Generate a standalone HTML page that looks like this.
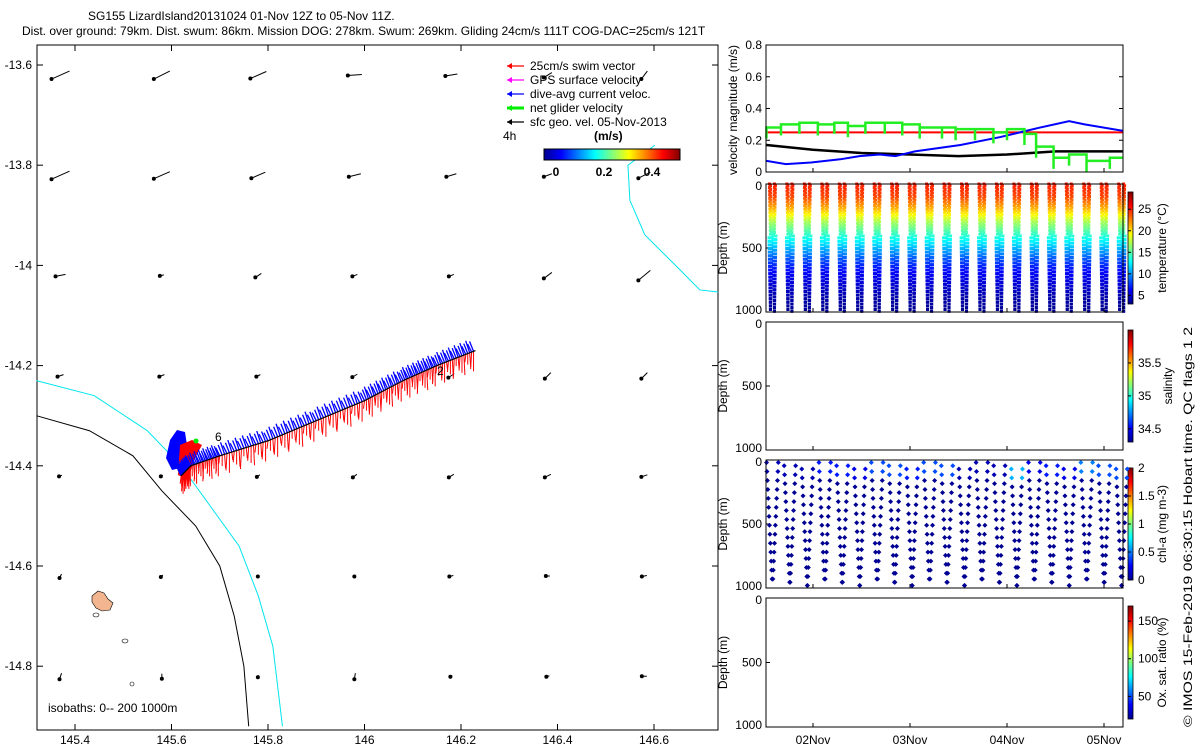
<!DOCTYPE html>
<html><head><meta charset="utf-8">
<style>
body{margin:0;background:#fff;width:1200px;height:750px;overflow:hidden;font-family:"Liberation Sans",sans-serif}
svg text{font-family:"Liberation Sans",sans-serif;font-size:12px;fill:#000}
</style></head>
<body>
<svg id="s" width="1200" height="750" xmlns="http://www.w3.org/2000/svg">
<defs>
<linearGradient id="jetv" x1="0" y1="1" x2="0" y2="0">
<stop offset="0" stop-color="#00008f"/><stop offset="0.125" stop-color="#0000ff"/><stop offset="0.375" stop-color="#00ffff"/><stop offset="0.625" stop-color="#ffff00"/><stop offset="0.875" stop-color="#ff0000"/><stop offset="1" stop-color="#800000"/>
</linearGradient>
<linearGradient id="jeth" x1="0" y1="0" x2="1" y2="0">
<stop offset="0" stop-color="#00008f"/><stop offset="0.125" stop-color="#0000ff"/><stop offset="0.375" stop-color="#00ffff"/><stop offset="0.625" stop-color="#ffff00"/><stop offset="0.875" stop-color="#ff0000"/><stop offset="1" stop-color="#800000"/>
</linearGradient>
</defs>
<text x="88" y="20">SG155 LizardIsland20131024 01-Nov 12Z to 05-Nov 11Z.</text>
<text x="22" y="35">Dist. over ground: 79km. Dist. swum: 86km. Mission DOG: 278km. Swum: 269km. Gliding 24cm/s 111T COG-DAC=25cm/s 121T</text>
<g id="map"></g>
<g id="right"></g>
</svg>
<script>
const NS="http://www.w3.org/2000/svg";
function el(p,t,a){const e=document.createElementNS(NS,t);for(const k in a)e.setAttribute(k,a[k]);p.appendChild(e);return e;}
function jet(v){v=Math.max(0,Math.min(1,v));const r=Math.max(0,Math.min(1,1.5-Math.abs(4*v-3))),g=Math.max(0,Math.min(1,1.5-Math.abs(4*v-2))),b=Math.max(0,Math.min(1,1.5-Math.abs(4*v-1)));return `rgb(${r*255|0},${g*255|0},${b*255|0})`;}

// ---------- MAP DATA ----------
const lonTicks=[145.4,145.6,145.8,146,146.2,146.4,146.6];
const latTicks=[-13.6,-13.8,-14,-14.2,-14.4,-14.6,-14.8];
const gridLons=[145.37,145.58,145.78,145.98,146.18,146.38,146.58];
const gridLats=[-13.62,-13.82,-14.02,-14.22,-14.42,-14.62,-14.82];
const gridU=[[-18,-16,-16,-14,-12,-8,-6],[-18,-16,-14,-12,-10,-8,-12],[-10,-4,-6,-5,-5,-8,-12],[-6,-5,-4,-5,-6,-6,-6],[-3,-2,-3,-4,-5,-6,-6],[-2,-2,-1,-1,-4,-4,-5],[-2,0,-1,-1,-2,-3,-5]];
const gridV=[[-8,-8,-7,-1,-2,-5,-8],[-8,-7,-6,-3,-3,-3,-6],[-2,-1,-4,-2,-2,-6,-10],[-2,-2,-2,-3,-4,-6,-6],[-1,-1,-2,-3,-3,-3,-2],[-4,-2,-1,-1,-1,0,-1],[-6,-5,-2,-6,-1,-1,0]];
const trackLon=[145.62,145.64,145.70,145.80,145.90,146.00,146.08,146.15,146.23];
const trackLat=[-14.42,-14.40,-14.38,-14.35,-14.31,-14.27,-14.23,-14.20,-14.17];
const coast200Lon=[145.32,145.44,145.55,145.62,145.68,145.74,145.78,145.81,145.83];
const coast200Lat=[-14.23,-14.26,-14.33,-14.40,-14.48,-14.56,-14.66,-14.76,-14.92];
const coast1000Lon=[145.32,145.43,145.52,145.58,145.65,145.70,145.73,145.75,145.76];
const coast1000Lat=[-14.30,-14.33,-14.38,-14.45,-14.52,-14.60,-14.70,-14.80,-14.92];
const reefLon=[146.602,146.546,146.550,146.581,146.654,146.695,146.733];
const reefLat=[-13.760,-13.800,-13.870,-13.939,-14.009,-14.049,-14.053];

const mx=v=>75+(v-145.4)/0.2*96.5, my=v=>65+(-13.6-v)/0.2*100.2;
const M=document.getElementById('map');
el(M,'rect',{x:37,y:45,width:681,height:685,fill:'none',stroke:'#000',});
lonTicks.forEach(t=>{const x=mx(t);el(M,'line',{x1:x,y1:730,x2:x,y2:724,stroke:'#000'});el(M,'line',{x1:x,y1:45,x2:x,y2:51,stroke:'#000'});const tx=el(M,'text',{x:x,y:744,'text-anchor':'middle'});tx.textContent=t;});
latTicks.forEach(t=>{const y=my(t);el(M,'line',{x1:37,y1:y,x2:43,y2:y,stroke:'#000'});el(M,'line',{x1:718,y1:y,x2:712,y2:y,stroke:'#000'});const tx=el(M,'text',{x:32,y:y+4,'text-anchor':'end'});tx.textContent=t;});
function pl(lons,lats,c,n){const p=el(M,'polyline',{points:lons.map((l,i)=>mx(l)+','+my(lats[i])).join(' '),fill:'none',stroke:c,'stroke-width':1});}
pl(coast200Lon,coast200Lat,'#00e5ee','isobath-200m');
pl(coast1000Lon,coast1000Lat,'#000','isobath-1000m');
pl(reefLon,reefLat,'#00e5ee','reef-outline');
const isl=el(M,'path',{d:'M92,596 l6,-5 6,2 4,6 5,4 -3,7 -8,1 -6,-3 -4,-6z',fill:'#f2b58f',stroke:'#000','stroke-width':0.6});

el(M,'ellipse',{cx:96,cy:615,rx:3,ry:2,fill:'none',stroke:'#000','stroke-width':0.6});
el(M,'ellipse',{cx:125,cy:641,rx:3,ry:2,fill:'none',stroke:'#000','stroke-width':0.6});
el(M,'ellipse',{cx:132,cy:684,rx:2,ry:2,fill:'none',stroke:'#000','stroke-width':0.6});
gridLats.forEach((la,i)=>gridLons.forEach((lo,j)=>{const x=mx(lo),y=my(la),u=gridU[i][j],v=gridV[i][j];
 const g=el(M,'g',{});
 el(g,'line',{x1:x-u/2,y1:y+v/2,x2:x+u/2,y2:y-v/2,stroke:'#000','stroke-width':1});
 el(g,'circle',{cx:x+u/2,cy:y-v/2,r:2,fill:'#000'});}));
el(M,'path',{d:'M170,440 l7,-10 8,2 3,20 -4,15 -12,3 -6,-12 z',fill:'#0000ff'});
el(M,'path',{d:'M180,445 l12,-5 10,5 -8,15 -6,20 -10,-5 z',fill:'#ff0000'});
for(let k=0;k<trackLon.length-1;k++){const n=20;for(let s=0;s<n;s++){const f=s/n;const lo=trackLon[k]+(trackLon[k+1]-trackLon[k])*f,la=trackLat[k]+(trackLat[k+1]-trackLat[k])*f;const x=mx(lo),y=my(la);
 const b=el(M,'line',{x1:x,y1:y,x2:x-4,y2:y-8-(s%3)*2,stroke:'#0000ff','stroke-width':1.3});
 const r=el(M,'line',{x1:x,y1:y,x2:x+(s%3)-1,y2:y+8+(s%5)*3,stroke:'#ff0000','stroke-width':1});}}
const tr=el(M,'polyline',{points:trackLon.map((l,i)=>mx(l)+','+my(trackLat[i])).join(' '),fill:'none',stroke:'#000','stroke-width':1.2});

el(M,'circle',{cx:196,cy:441,r:2.5,fill:'#00ee00'});
[['6',215,441],['2',437,375]].forEach(a=>{const t=el(M,'text',{x:a[1],y:a[2]});t.textContent=a[0];});
const isoT=el(M,'text',{x:48,y:712});isoT.textContent='isobaths: 0-- 200  1000m';
const L=el(M,'g',{});
[['25cm/s swim vector','#ff0000'],['GPS surface velocity','#ff00ff'],['dive-avg current veloc.','#0000ff'],['net glider velocity','#00ee00'],['sfc geo. vel. 05-Nov-2013','#000']].forEach((e,i)=>{const y=66+i*14;
 const ln=el(L,'line',{x1:507,y1:y,x2:524,y2:y,stroke:e[1],'stroke-width':i==3?3:1.2});
 el(L,'path',{d:`M507,${y} l5,-3 v6z`,fill:e[1]});
 const t=el(L,'text',{x:530,y:y+4});t.textContent=e[0];});
const t4=el(M,'text',{x:503,y:140});t4.textContent='4h';
const ms=el(M,'text',{x:594,y:140,'font-weight':'bold'});ms.textContent='(m/s)';
const cb=el(M,'rect',{x:544,y:149,width:136,height:11,fill:'url(#jeth)',stroke:'#000'});
[['0',556],['0.2',604],['0.4',652]].forEach(a=>{const t=el(M,'text',{x:a[1],y:176,'text-anchor':'middle','font-weight':'bold'});t.textContent=a[0];});

// ---------- RIGHT PANELS DATA ----------
const dateTicks=[2,3,4,5];
const dateLabels=['02Nov','03Nov','04Nov','05Nov'];
const velTicks=[0,0.2,0.4,0.6,0.8];
const blueDays=[1.52,1.72,1.98,2.28,2.48,2.69,2.85,3.05,3.52,3.93,4.34,4.64,4.80,5.19];
const blueVals=[0.07,0.05,0.06,0.08,0.10,0.11,0.10,0.13,0.17,0.22,0.28,0.32,0.30,0.26];
const blackDays=[1.52,2.0,2.5,3.0,3.5,4.0,4.5,5.19];
const blackVals=[0.17,0.14,0.12,0.11,0.10,0.11,0.13,0.13];
const redVal=0.25;
const greenDays=[1.52,1.67,1.86,2.05,2.22,2.36,2.54,2.74,2.92,3.10,3.33,3.47,3.67,3.86,4.0,4.18,4.30,4.48,4.64,4.82,5.06];
const greenVals=[0.28,0.30,0.31,0.30,0.31,0.29,0.31,0.31,0.30,0.28,0.28,0.27,0.27,0.25,0.27,0.24,0.16,0.09,0.11,0.07,0.09];
const diveDays=[1.52,1.70,1.88,2.06,2.24,2.42,2.60,2.78,2.96,3.14,3.32,3.50,3.68,3.86,4.04,4.22,4.40,4.58,4.76,4.94,5.12];
const tempDepths=[0,100,200,300,400,500,600,700,800,900,1000];
const tempVals=[25,24,21,17,14,11,8,6,5,4,3.5];
const chlSurf=[0.1,0.1,0.1,0.3,0.3,0.2,0.4,0.4,0.3,0.4,0.4,0.1,0.1,0.1,0.6,0.2,0.3,0.2,0.5,0.4,0.4];

const X0=766,X1=1123;
const tx=d=>813+(d-2)*97;
const R=document.getElementById('right');
const panels=[{y0:45,y1:172,name:'velocity-panel'},{y0:184,y1:312,name:'temperature-panel'},{y0:322,y1:450,name:'salinity-panel'},{y0:460,y1:588,name:'chl-panel'},{y0:598,y1:727,name:'oxygen-panel'}];
const cbars=[null,{lab:'temperature (°C)',ticks:[5,10,15,20,25],mn:3,mx:29},{lab:'salinity',ticks:[34.5,35,35.5],mn:34.3,mx:36},{lab:'chl-a (mg m-3)',ticks:[0,0.5,1,1.5,2],mn:0,mx:2},{lab:'Ox. sat. ratio (%)',ticks:[50,100,150],mn:20,mx:170}];
function tempAt(z){for(let j=0;j<tempDepths.length-1;j++){if(z<=tempDepths[j+1]){const f=(z-tempDepths[j])/(tempDepths[j+1]-tempDepths[j]);return tempVals[j]+(tempVals[j+1]-tempVals[j])*f;}}return tempVals[tempVals.length-1];}
panels.forEach((p,i)=>{
 const g=el(R,'g',{});
 dateTicks.forEach(d=>{el(g,'line',{x1:tx(d),y1:p.y1,x2:tx(d),y2:p.y1-4,stroke:'#000'});});
 if(i==0){
  const vy=v=>172-v*158.75;
  velTicks.forEach(v=>{el(g,'line',{x1:X0,y1:vy(v),x2:X0+4,y2:vy(v),stroke:'#000'});el(g,'line',{x1:X1,y1:vy(v),x2:X1-4,y2:vy(v),stroke:'#000'});const t=el(g,'text',{x:762,y:vy(v)+4,'text-anchor':'end'});t.textContent=v;});
  const yl=el(g,'text',{transform:`translate(737,110) rotate(-90)`,'text-anchor':'middle'});yl.textContent='velocity magnitude (m/s)';
  const r=el(g,'line',{x1:X0,y1:vy(redVal),x2:X1,y2:vy(redVal),stroke:'#ff0000','stroke-width':2});
  const k=el(g,'polyline',{points:blackDays.map((d,j)=>tx(d)+','+vy(blackVals[j])).join(' '),fill:'none',stroke:'#000','stroke-width':2.5});
  const b=el(g,'polyline',{points:blueDays.map((d,j)=>tx(d)+','+vy(blueVals[j])).join(' '),fill:'none',stroke:'#0000ff','stroke-width':2});
  let pts=[];greenDays.forEach((d,j)=>{const de=j<greenDays.length-1?greenDays[j+1]:5.19;pts.push(tx(d)+','+vy(greenVals[j]));pts.push(tx(d)+','+vy(greenVals[j]-0.07));pts.push(tx(d)+','+vy(greenVals[j]));pts.push(tx(de)+','+vy(greenVals[j]));});
  const gr=el(g,'polyline',{points:pts.join(' '),fill:'none',stroke:'#22ee22','stroke-width':2.5});
 }else{
  const dy=v=>p.y0+(v/1000)*(p.y1-p.y0);
  [0,500,1000].forEach(v=>{el(g,'line',{x1:X0,y1:dy(v),x2:X0+4,y2:dy(v),stroke:'#000'});const t=el(g,'text',{x:762,y:dy(v)+(v==0?6:v==1000?2:4),'text-anchor':'end'});t.textContent=v;});
  const yl=el(g,'text',{transform:`translate(727,${(p.y0+p.y1)/2}) rotate(-90)`,'text-anchor':'middle'});yl.textContent='Depth (m)';
  const c=cbars[i];
  const cr=el(g,'rect',{x:1128,y:p.y0+8,width:5,height:p.y1-p.y0-16,fill:'url(#jetv)',stroke:'#000','stroke-width':0.8});
  const cy=v=>p.y1-8-(v-c.mn)/(c.mx-c.mn)*(p.y1-p.y0-16);
  c.ticks.forEach(v=>{el(g,'line',{x1:1128,y1:cy(v),x2:1131,y2:cy(v),stroke:'#000'});const t=el(g,'text',{x:1138,y:cy(v)+4});t.textContent=v;});
  const cl=el(g,'text',{transform:`translate(${i==2?1172:1166},${(p.y0+p.y1)/2}) rotate(-90)`,'text-anchor':'middle'});cl.textContent=c.lab;
  if(i==1){
   diveDays.forEach(d=>{const xs=tx(d)+6;for(let zz=0;zz<=1000;zz+=14){const col=jet((tempAt(zz)-3)/26);[-1,1].forEach(s=>{const off=(1-zz/1000)*2.5*s+((zz/14)%2?1:-1)*(zz>400?2:0.5);const m=el(g,'rect',{x:xs+off-1.5,y:dy(zz)-1.5,width:3,height:3,fill:col});});}});
  }
  if(i==3){
   diveDays.forEach((d,k)=>{const xs=tx(d)+6;for(let z=(k%3)*25+20;z<=980;z+=70){[-1,1].forEach(s=>{const off=(1-z/1000)*6*s;const col=jet(z<150?chlSurf[k]/2:0.02);const m=el(g,'path',{d:`M${xs+off},${dy(z)-2.5} l2.5,2.5 -2.5,2.5 -2.5,-2.5z`,fill:col});});}});
  }
  if(i==4){dateTicks.forEach((d,j)=>{const t=el(g,'text',{x:tx(d),y:744,'text-anchor':'middle'});t.textContent=dateLabels[j];});}
 }
 el(g,'rect',{x:X0,y:p.y0,width:X1-X0,height:p.y1-p.y0,fill:'none',stroke:'#000'});
});
const cp=el(R,'text',{transform:'translate(1192,727) rotate(-90)','font-size':'13',textLength:'400',lengthAdjust:'spacingAndGlyphs'});cp.textContent='© IMOS 15-Feb-2019 06:30:15 Hobart time. QC flags 1  2';
</script>
</body></html>
